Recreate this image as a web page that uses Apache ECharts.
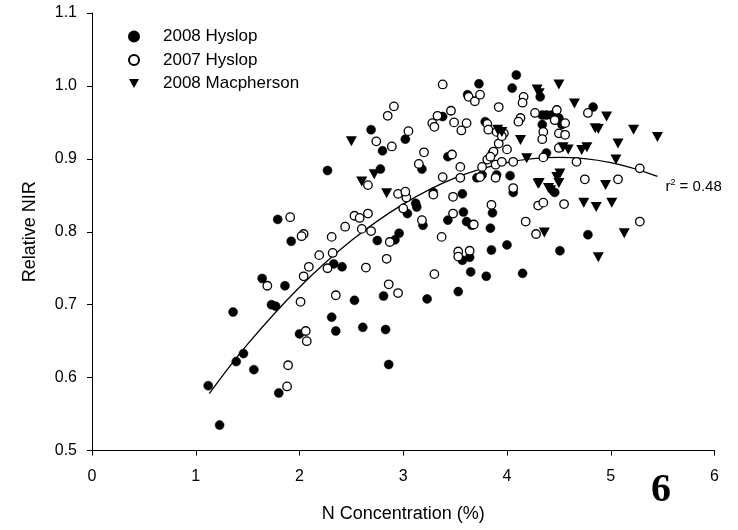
<!DOCTYPE html>
<html>
<head>
<meta charset="utf-8">
<script src="https://cdn.jsdelivr.net/npm/echarts@6/dist/echarts.min.js"></script>
<style>html,body{margin:0;padding:0;background:#fff}#c{width:738px;height:530px}</style>
</head>
<body>
<div id="c"></div>
<script>
// ---- data ----
var seriesNames = ['2008 Hyslop', '2007 Hyslop', '2008 Macpherson'];
var xTicks = [0, 1, 2, 3, 4, 5, 6];
var yTicks = [0.5, 0.6, 0.7, 0.8, 0.9, 1.0, 1.1];

var hyslop2008 = [
 [1.64,0.736],[1.86,0.726],[1.73,0.700],[1.77,0.698],[1.36,0.690],[2.00,0.660],[1.46,0.633],[1.39,0.622],
 [1.56,0.611],[1.12,0.589],[1.80,0.579],[1.23,0.535],[1.79,0.817],[1.92,0.787],[2.33,0.756],[2.41,0.752],
 [2.31,0.683],[2.35,0.664],[2.53,0.706],[2.61,0.669],[2.83,0.666],[2.81,0.712],[2.86,0.618],[2.75,0.788],
 [2.96,0.798],[2.92,0.789],[3.04,0.825],[3.12,0.839],[3.13,0.834],[3.19,0.809],[3.23,0.708],[3.43,0.816],
 [3.53,0.718],[2.27,0.884],[2.69,0.940],[2.80,0.911],[2.78,0.886],[3.02,0.927],[3.38,0.958],[3.18,0.886],
 [3.43,0.903],[3.29,0.854],[3.73,1.003],[3.62,0.988],[3.79,0.951],[3.86,0.908],[3.71,0.874],[3.76,0.878],
 [4.09,1.015],[4.05,0.997],[4.32,0.985],[4.83,0.971],[4.34,0.960],[4.38,0.960],[4.43,0.960],[4.34,0.947],
 [4.50,0.956],[4.53,0.947],[4.38,0.908],[3.90,0.878],[4.03,0.877],[4.06,0.854],[4.46,0.854],[3.86,0.826],
 [4.78,0.796],[3.84,0.805],[4.00,0.782],[3.85,0.775],[4.51,0.774],[4.15,0.743],[3.57,0.852],[3.58,0.827],
 [3.61,0.814],[3.66,0.809],[3.57,0.761],[3.64,0.765],[3.65,0.745],[3.80,0.739]
];
var hyslop2007 = [
 [1.69,0.726],[2.04,0.739],[2.09,0.752],[2.01,0.704],[2.06,0.664],[2.07,0.650],[1.89,0.617],[1.88,0.588],
 [1.91,0.820],[2.04,0.797],[2.02,0.794],[2.19,0.768],[2.27,0.750],[2.32,0.771],[2.31,0.793],[2.44,0.807],
 [2.53,0.822],[2.58,0.819],[2.66,0.825],[2.60,0.804],[2.69,0.801],[2.64,0.751],[2.35,0.713],[2.87,0.786],
 [2.84,0.763],[2.86,0.728],[2.95,0.716],[2.95,0.852],[3.03,0.847],[3.02,0.855],[3.00,0.832],[3.18,0.816],
 [3.29,0.851],[3.37,0.793],[3.30,0.742],[3.48,0.848],[3.48,0.825],[3.53,0.773],[3.53,0.766],[3.64,0.774],
 [3.38,1.002],[2.91,0.972],[2.85,0.959],[2.74,0.924],[2.89,0.917],[3.05,0.938],[3.20,0.909],[3.15,0.893],
 [3.46,0.966],[3.33,0.959],[3.28,0.949],[3.30,0.944],[3.49,0.950],[3.47,0.906],[3.38,0.875],[2.66,0.864],
 [3.55,0.889],[3.55,0.874],[3.61,0.949],[3.56,0.939],[3.63,0.985],[3.69,0.979],[3.74,0.988],[3.81,0.948],
 [3.82,0.940],[3.92,0.971],[3.87,0.910],[3.92,0.921],[3.81,0.899],[3.84,0.903],[3.76,0.889],[3.74,0.875],
 [3.89,0.874],[4.16,0.985],[4.15,0.977],[4.27,0.963],[4.46,0.953],[4.48,0.967],[4.56,0.949],[4.13,0.956],
 [4.11,0.951],[4.35,0.937],[4.34,0.927],[4.50,0.935],[4.56,0.933],[4.78,0.963],[3.90,0.937],[3.97,0.935],
 [3.95,0.931],[4.00,0.913],[3.89,0.892],[3.95,0.896],[4.06,0.896],[4.35,0.902],[4.50,0.915],[4.67,0.896],
 [4.75,0.872],[5.07,0.872],[4.06,0.860],[3.85,0.837],[4.30,0.836],[4.35,0.840],[4.55,0.838],[4.18,0.814],
 [5.28,0.814],[4.28,0.797],[3.68,0.810],[5.28,0.887]
];
var macpherson2008 = [
 [2.84,0.853],[2.50,0.924],[2.72,0.879],[2.60,0.869],[3.91,0.940],[3.95,0.937],[4.29,0.995],[4.31,0.990],
 [4.50,1.002],[4.65,0.976],[4.96,0.958],[4.85,0.942],[4.88,0.941],[4.13,0.926],[4.54,0.916],[4.59,0.913],
 [4.72,0.912],[4.77,0.916],[5.07,0.921],[4.19,0.901],[5.05,0.899],[4.51,0.880],[4.48,0.875],[4.30,0.866],
 [4.40,0.860],[4.95,0.864],[4.31,0.867],[4.50,0.867],[4.42,0.857],[4.74,0.840],[4.86,0.834],[5.01,0.840],
 [4.36,0.799],[5.13,0.798],[4.88,0.765],[5.22,0.940],[5.45,0.930]
];
// fitted curve at regular x positions
var curveX = [1.13, 1.5, 2.0, 2.5, 3.0, 3.5, 4.0, 4.5, 5.0, 5.45];
var curveY = [0.578, 0.646, 0.724, 0.788, 0.838, 0.874, 0.895, 0.902, 0.895, 0.876];
var r2Text = '0.48';
var panelLabel = '6';
var xTitle = 'N Concentration (%)';
var yTitle = 'Relative NIR';

// ---- chart ----
var FONT = 'Liberation Sans, Arial, sans-serif';
var tri = 'path://M0,0 L10,0 L5,9 Z';
var curveData = curveX.map(function (x, i) { return [x, curveY[i]]; });

var chart = echarts.init(document.getElementById('c'), null, { renderer: 'canvas' });
chart.setOption({
  animation: false,
  backgroundColor: '#fff',
  grid: { left: 92, right: 23.5, top: 13, bottom: 79.4, containLabel: false },
  xAxis: {
    type: 'value', min: xTicks[0], max: xTicks[xTicks.length - 1], interval: 1,
    name: xTitle, nameLocation: 'middle', nameGap: 54,
    nameTextStyle: { fontFamily: FONT, fontSize: 18, color: '#000' },
    axisLine: { lineStyle: { color: '#000', width: 1 } },
    axisTick: { inside: false, length: 5, lineStyle: { color: '#000' } },
    axisLabel: { fontFamily: FONT, fontSize: 16, color: '#000', margin: 18 },
    splitLine: { show: false }
  },
  yAxis: {
    type: 'value', min: yTicks[0], max: yTicks[yTicks.length - 1], interval: 0.1,
    name: yTitle, nameLocation: 'middle', nameGap: 53, nameRotate: 90,
    nameTextStyle: { fontFamily: FONT, fontSize: 18, color: '#000' },
    axisLine: { show: true, lineStyle: { color: '#000', width: 1 } },
    axisTick: { show: true, inside: false, length: 5, lineStyle: { color: '#000' } },
    axisLabel: { fontFamily: FONT, fontSize: 16, color: '#000', margin: 15,
      formatter: function (v) { return v.toFixed(1); } },
    splitLine: { show: false }
  },
  legend: {
    orient: 'vertical', left: 123, top: 23, itemWidth: 10, itemHeight: 10, itemGap: 6.5,
    data: seriesNames,
    textStyle: { fontFamily: FONT, fontSize: 17, color: '#000', padding: [0, 0, 0, 19], lineHeight: 17 }
  },
  series: [
    {
      type: 'line', data: curveData, smooth: 0.4, symbol: 'none', silent: true, z: 1,
      lineStyle: { color: '#000', width: 1.3 },
      endLabel: {
        show: true, distance: 8, offset: [0, 10],
        formatter: '{a|r}{b|2}{a| = ' + r2Text + '}',
        rich: {
          a: { fontFamily: FONT, fontSize: 15, color: '#000' },
          b: { fontFamily: FONT, fontSize: 9, color: '#000', verticalAlign: 'top', padding: [0, 0, 8, 0] }
        }
      }
    },
    {
      name: seriesNames[0], type: 'scatter', data: hyslop2008, symbol: 'circle', symbolSize: 9, z: 2,
      itemStyle: { color: '#000', borderColor: '#000', borderWidth: 0.5, opacity: 1 }
    },
    {
      name: seriesNames[1], type: 'scatter', data: hyslop2007, symbol: 'circle', symbolSize: 8.5, z: 3,
      itemStyle: { color: '#fff', borderColor: '#000', borderWidth: 1.3, opacity: 1 }
    },
    {
      name: seriesNames[2], type: 'scatter', data: macpherson2008, symbol: tri, symbolSize: [11, 10], z: 4,
      itemStyle: { color: '#000', borderColor: '#000', borderWidth: 0, opacity: 1 }
    }
  ],
  graphic: [
    { type: 'text', left: 651, top: 471,
      style: { text: panelLabel, font: 'bold 40px "Liberation Serif", "Times New Roman", serif', fill: '#000' } }
  ]
});
</script>
</body>
</html>
